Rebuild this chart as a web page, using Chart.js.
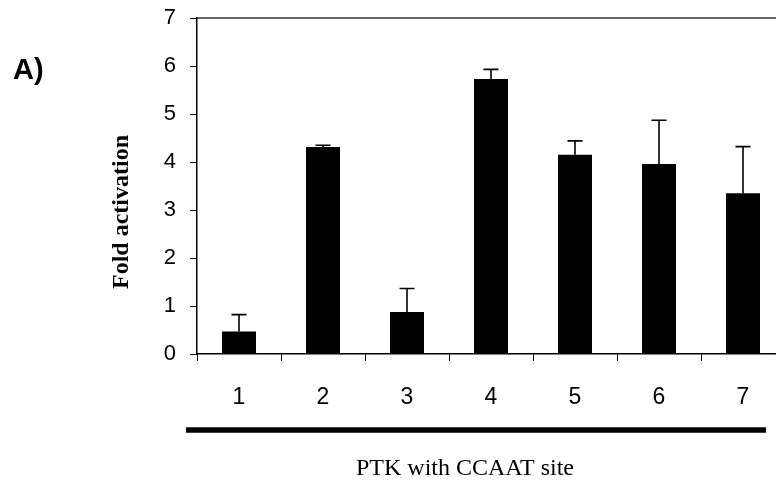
<!DOCTYPE html>
<html>
<head>
<meta charset="utf-8">
<script src="https://cdn.jsdelivr.net/npm/chart.js@4.4.0/dist/chart.umd.min.js"></script>
<style>
  html, body { margin: 0; padding: 0; overflow: hidden; background: #fff; }
  canvas { display: block; }
</style>
</head>
<body>
<canvas id="foldChart" width="800" height="481"></canvas>
<script>
const categories = ['1', '2', '3', '4', '5', '6', '7'];
const foldValues = [0.47, 4.31, 0.875, 5.73, 4.15, 3.96, 3.35];
const foldErrors = [0.35, 0.04, 0.49, 0.20, 0.29, 0.91, 0.97];
const yTicks = [0, 1, 2, 3, 4, 5, 6, 7];

// upward-only error bars, drawn from the y scale
const errorBars = {
    id: 'errorBars',
    afterDatasetsDraw(chart) {
        const ctx = chart.ctx;
        const y = chart.scales.y;
        const meta = chart.getDatasetMeta(0);
        ctx.save();
        ctx.strokeStyle = '#000';
        ctx.lineWidth = 1.6;
        meta.data.forEach((bar, i) => {
            const top = y.getPixelForValue(foldValues[i] + foldErrors[i]);
            ctx.beginPath();
            ctx.moveTo(bar.x, bar.y);
            ctx.lineTo(bar.x, top);
            ctx.moveTo(bar.x - 7.5, top);
            ctx.lineTo(bar.x + 7.5, top);
            ctx.stroke();
        });
        ctx.restore();
    }
};

// frame top line, bracket under the labels, titles
const extras = {
    id: 'extras',
    afterDraw(chart) {
        const ctx = chart.ctx;
        const area = chart.chartArea;
        ctx.save();
        ctx.strokeStyle = '#333';
        ctx.lineWidth = 1.5;
        ctx.beginPath();
        ctx.moveTo(area.left, area.top);
        ctx.lineTo(area.right, area.top);
        ctx.stroke();

        ctx.strokeStyle = '#000';
        ctx.lineWidth = 5.5;
        ctx.beginPath();
        ctx.moveTo(area.left - 11, 430);
        ctx.lineTo(area.right - 19, 430);
        ctx.stroke();

        ctx.fillStyle = '#000';
        ctx.font = '24px "Liberation Serif"';
        ctx.textAlign = 'center';
        ctx.textBaseline = 'alphabetic';
        ctx.fillText('PTK with CCAAT site', 465, 475);

        ctx.font = 'bold 29px "Liberation Sans"';
        ctx.textAlign = 'left';
        ctx.fillText('A)', 13, 79);

        ctx.translate(122, 212);
        ctx.rotate(-Math.PI / 2);
        ctx.font = 'bold 24px "Liberation Serif"';
        ctx.textAlign = 'center';
        ctx.textBaseline = 'middle';
        ctx.fillText('Fold activation', 0, 0);
        ctx.restore();
    }
};

const ctx = document.getElementById('foldChart').getContext('2d');
new Chart(ctx, {
    type: 'bar',
    data: {
        labels: categories,
        datasets: [{
            data: foldValues,
            backgroundColor: '#000',
            borderWidth: 0,
            barPercentage: 0.405,
            categoryPercentage: 1.0
        }]
    },
    options: {
        responsive: false,
        animation: false,
        layout: { padding: { top: 18, right: 15, left: 0, bottom: 0 } },
        plugins: {
            legend: { display: false },
            tooltip: { enabled: false }
        },
        scales: {
            x: {
                grid: { drawOnChartArea: false, tickLength: 7, color: '#000', offset: true },
                border: { color: '#000', width: 1.5 },
                ticks: {
                    color: '#000',
                    font: { family: 'Liberation Sans', size: 23 },
                    padding: 23,
                    maxRotation: 0
                },
                afterFit(scale) { scale.height = 127; }
            },
            y: {
                min: 0,
                max: 7,
                afterBuildTicks(scale) {
                    scale.ticks = yTicks.map(v => ({ value: v }));
                },
                grid: { drawOnChartArea: false, tickLength: 7, color: '#000' },
                border: { color: '#000', width: 1.5 },
                ticks: {
                    color: '#000',
                    font: { family: 'Liberation Sans', size: 22 },
                    padding: 14
                },
                afterFit(scale) {
                    scale.width = 197;
                    scale.paddingTop = 0;
                    scale.paddingBottom = 0;
                }
            }
        }
    },
    plugins: [errorBars, extras]
});
</script>
</body>
</html>
